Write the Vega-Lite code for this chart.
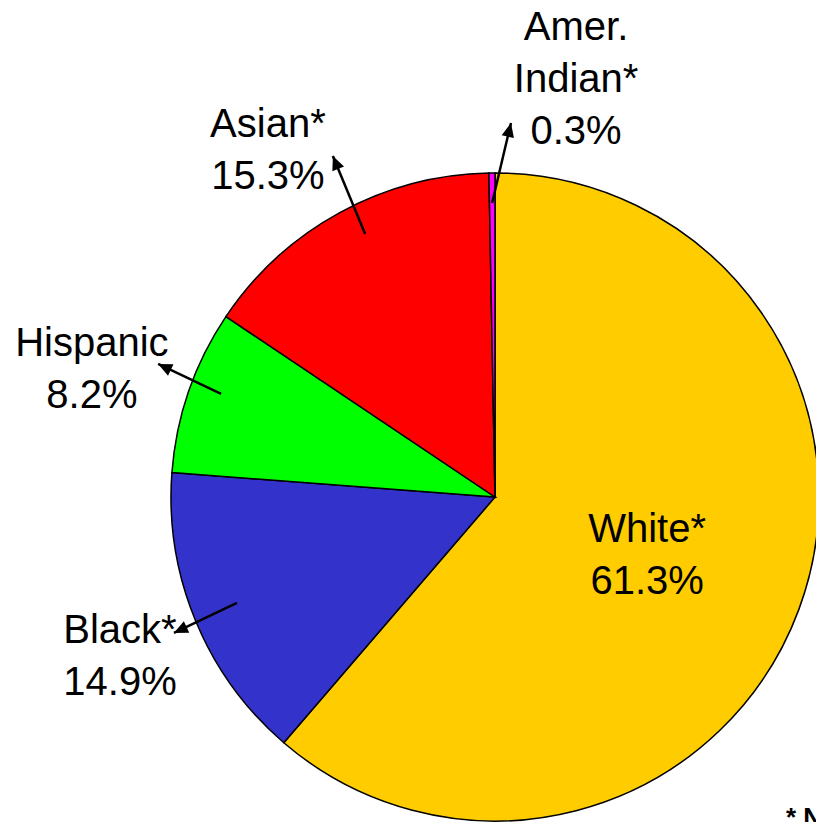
{
  "$schema": "https://vega.github.io/schema/vega-lite/v6.json",
  "autosize": {"type": "none"},
  "width": 816,
  "height": 822,
  "padding": 0,
  "background": "white",
  "config": {"view": {"stroke": null}},
  "datasets": {
    "slices": [
      {"group": "White*", "pct": 61.3, "order": 1},
      {"group": "Black*", "pct": 14.9, "order": 2},
      {"group": "Hispanic", "pct": 8.2, "order": 3},
      {"group": "Asian*", "pct": 15.3, "order": 4},
      {"group": "Amer. Indian*", "pct": 0.3, "order": 5}
    ],
    "labels": [
      {"text": "Amer.\nIndian*\n0.3%", "x": 25.1, "y": 141.5},
      {"text": "Asian*\n15.3%", "x": -70.3, "y": 111.5},
      {"text": "Hispanic\n8.2%", "x": -124.8, "y": 43.7},
      {"text": "Black*\n14.9%", "x": -116.1, "y": -45.2},
      {"text": "White*\n61.3%", "x": 47.1, "y": -13.9}
    ],
    "arrows": [
      {"group": "Amer. Indian*", "x": -0.9, "y": 91.0, "x2": 4.95, "y2": 115.8},
      {"group": "Asian*", "x": -40.2, "y": 81.4, "x2": -50.2, "y2": 105.6},
      {"group": "Hispanic", "x": -84.8, "y": 31.9, "x2": -104.3, "y2": 41.2},
      {"group": "Black*", "x": -79.9, "y": -32.8, "x2": -99.4, "y2": -42.1}
    ],
    "notes": [
      {"text": "* Non-Hispanic", "x": 90.1, "y": -102.0}
    ]
  },
  "layer": [
    {
      "data": {"name": "slices"},
      "mark": {"type": "arc", "outerRadius": 324, "stroke": "black", "strokeWidth": 1.5},
      "encoding": {
        "theta": {"field": "pct", "type": "quantitative", "stack": true},
        "order": {"field": "order", "type": "quantitative", "sort": "ascending"},
        "color": {
          "field": "group", "type": "nominal", "legend": null,
          "scale": {
            "domain": ["White*", "Black*", "Hispanic", "Asian*", "Amer. Indian*"],
            "range": ["#FFCC00", "#3333CC", "#00FF00", "#FF0000", "#FF00FF"]
          }
        },
        "x": {"datum": 0, "type": "quantitative", "axis": null,
              "scale": {"domain": [-153.25, 99.38], "nice": false, "zero": false}},
        "y": {"datum": 0, "type": "quantitative", "axis": null,
              "scale": {"domain": [-100.62, 153.87], "nice": false, "zero": false}}
      }
    },
    {
      "data": {"name": "arrows"},
      "mark": {"type": "rule", "color": "black", "strokeWidth": 2.5},
      "encoding": {
        "x": {"field": "x", "type": "quantitative", "axis": null,
              "scale": {"domain": [-153.25, 99.38], "nice": false, "zero": false}},
        "y": {"field": "y", "type": "quantitative", "axis": null,
              "scale": {"domain": [-100.62, 153.87], "nice": false, "zero": false}},
        "x2": {"field": "x2"},
        "y2": {"field": "y2"}
      }
    },
    {
      "data": {"name": "arrows"},
      "transform": [
        {"calculate": "atan2(datum.x2 - datum.x, datum.y2 - datum.y) * 180 / PI", "as": "ang"}
      ],
      "mark": {"type": "point", "shape": "M0,0L-0.45,1L0.45,1Z", "filled": true, "color": "black", "opacity": 1, "size": 784, "strokeWidth": 0},
      "encoding": {
        "x": {"field": "x2", "type": "quantitative", "axis": null,
              "scale": {"domain": [-153.25, 99.38], "nice": false, "zero": false}},
        "y": {"field": "y2", "type": "quantitative", "axis": null,
              "scale": {"domain": [-100.62, 153.87], "nice": false, "zero": false}},
        "angle": {"field": "ang", "type": "quantitative", "scale": null}
      }
    },
    {
      "data": {"name": "labels"},
      "mark": {"type": "text", "font": "Liberation Sans", "fontSize": 40, "lineHeight": 52, "lineBreak": "\n", "align": "center", "baseline": "alphabetic", "color": "black"},
      "encoding": {
        "x": {"field": "x", "type": "quantitative", "axis": null,
              "scale": {"domain": [-153.25, 99.38], "nice": false, "zero": false}},
        "y": {"field": "y", "type": "quantitative", "axis": null,
              "scale": {"domain": [-100.62, 153.87], "nice": false, "zero": false}},
        "text": {"field": "text"}
      }
    },
    {
      "data": {"name": "notes"},
      "mark": {"type": "text", "font": "Liberation Sans", "fontSize": 26, "fontWeight": "bold", "align": "left", "baseline": "alphabetic", "color": "black"},
      "encoding": {
        "x": {"field": "x", "type": "quantitative", "axis": null,
              "scale": {"domain": [-153.25, 99.38], "nice": false, "zero": false}},
        "y": {"field": "y", "type": "quantitative", "axis": null,
              "scale": {"domain": [-100.62, 153.87], "nice": false, "zero": false}},
        "text": {"field": "text"}
      }
    }
  ]
}
